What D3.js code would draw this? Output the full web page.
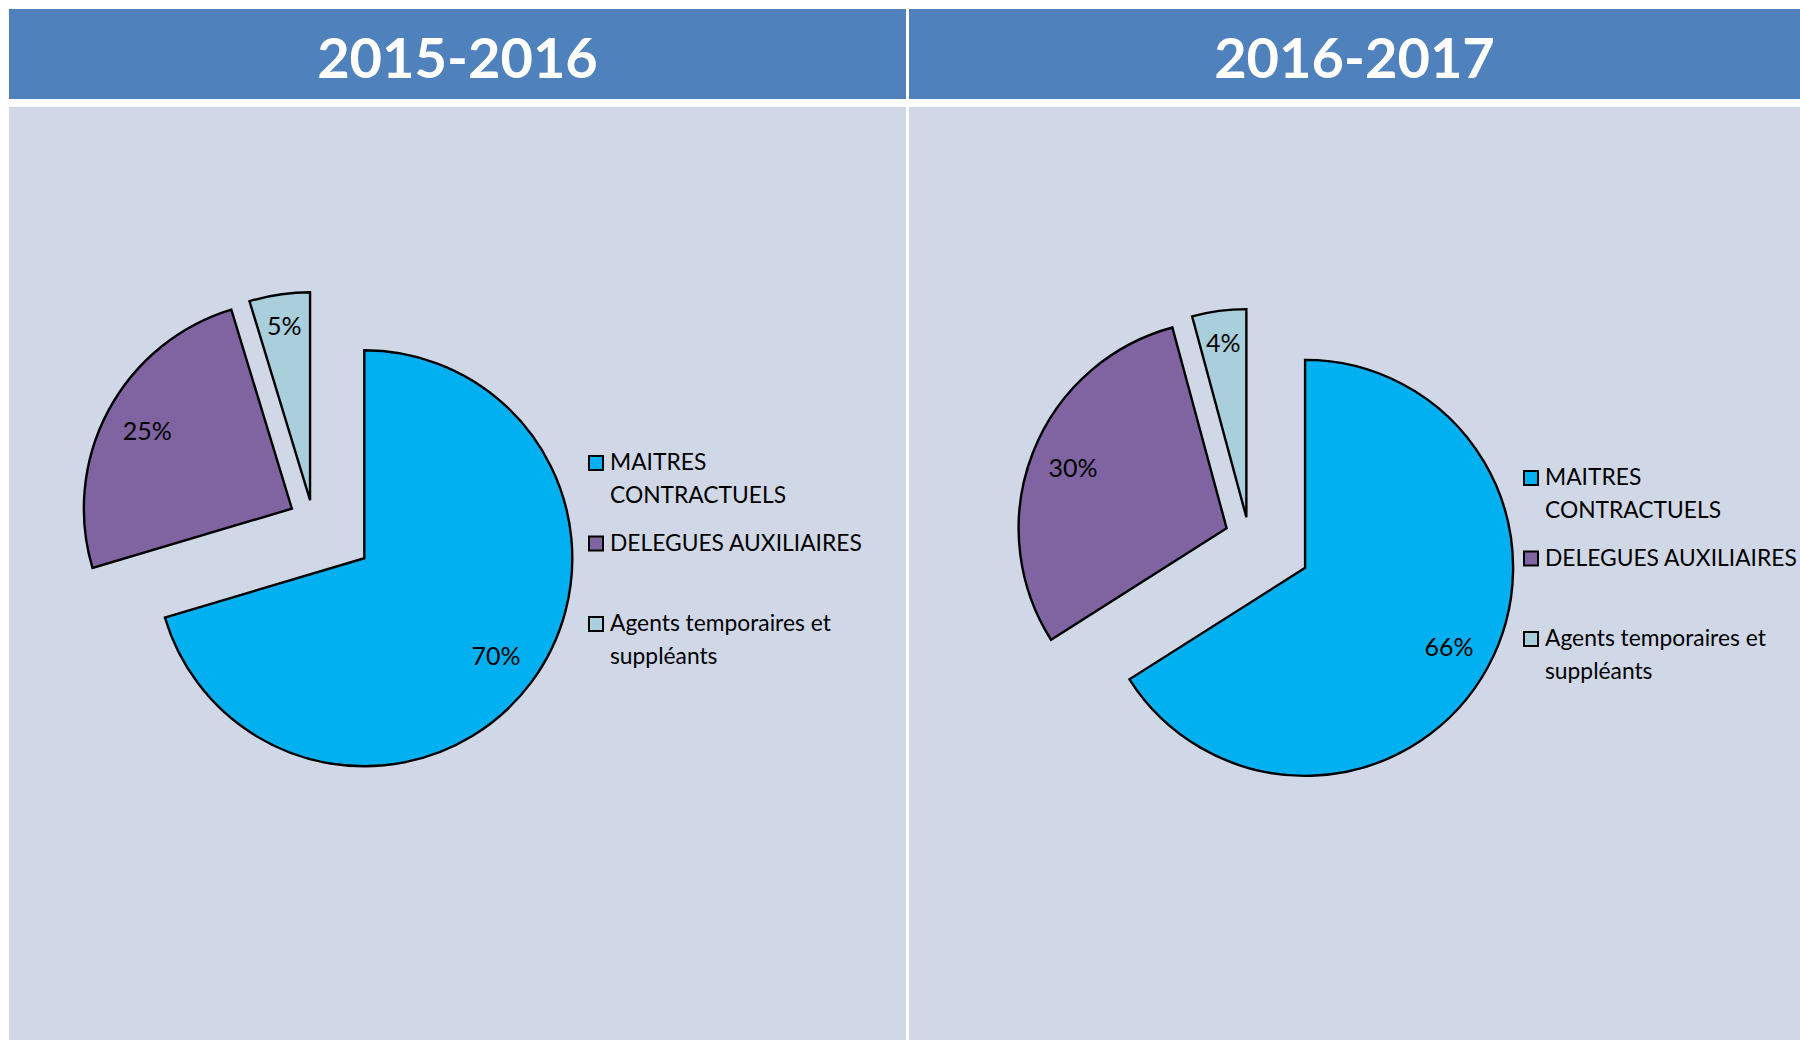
<!DOCTYPE html>
<html>
<head>
<meta charset="utf-8">
<script src="https://cdn.jsdelivr.net/npm/d3@7"></script>
<style>
  body { margin: 0; background: #fff; }
  text { font-family: Lato, "Open Sans", sans-serif; }
</style>
</head>
<body>
<div id="chart"></div>
<script>
// data
const years = ["2015-2016", "2016-2017"];
const categories = ["MAITRES CONTRACTUELS", "DELEGUES AUXILIAIRES", "Agents temporaires et suppléants"];
const legendLines = [["MAITRES", "CONTRACTUELS"], ["DELEGUES AUXILIAIRES"], ["Agents temporaires et", "suppléants"]];
const shares2015 = [70.4, 24.9, 4.7];
const shares2016 = [66.0, 29.8, 4.2];
const colors = ["#00B0F0", "#8064A2", "#A9CFDC"];

const width = 1800, height = 1040;
const radius = 208;
const explode = [64, 24, 20];   // slice pull-out, px

const svg = d3.select("#chart")
  .append("svg")
  .attr("width", width)
  .attr("height", height);

svg.append("rect").attr("width", width).attr("height", height).attr("fill", "#fff");

const panels = [
  {title: years[0], values: shares2015, x: 9, w: 897, cx: 313, cy: 520, legendX: 610, legendY: 470},
  {title: years[1], values: shares2016, x: 909, w: 891, cx: 1249, cy: 537, legendX: 1545, legendY: 485}
];

const pie = d3.pie().sort(null).value(d => d);
const arc = d3.arc().innerRadius(0).outerRadius(radius);

function drawPanel(p) {
  // header band
  svg.append("rect")
    .attr("x", p.x).attr("y", 9)
    .attr("width", p.w).attr("height", 90)
    .attr("fill", "#4F81BD");

  svg.append("text")
    .attr("x", p.x + p.w / 2).attr("y", 78)
    .attr("text-anchor", "middle")
    .attr("fill", "#fff")
    .attr("font-weight", "bold")
    .attr("font-size", 56)
    .text(p.title);

  // body
  svg.append("rect")
    .attr("x", p.x).attr("y", 107)
    .attr("width", p.w).attr("height", height - 107)
    .attr("fill", "#D0D8E8");

  const g = svg.append("g").attr("transform", `translate(${p.cx},${p.cy})`);

  const slices = g.selectAll("g.slice")
    .data(pie(p.values))
    .join("g")
    .attr("class", "slice")
    .attr("transform", d => {
      const m = (d.startAngle + d.endAngle) / 2;
      const e = explode[d.index];
      return `translate(${Math.sin(m) * e},${-Math.cos(m) * e})`;
    });

  slices.append("path")
    .attr("d", arc)
    .attr("fill", d => colors[d.index])
    .attr("stroke", "#000")
    .attr("stroke-width", 2.4);

  // labels at inside end
  slices.append("text")
    .attr("text-anchor", "middle")
    .attr("dy", "0.35em")
    .attr("font-size", 25)
    .attr("fill", "#000")
    .text(d => Math.round(d.data) + "%")
    .each(function(d) {
      const b = this.getBBox();
      const m = (d.startAngle + d.endAngle) / 2;
      const dist = radius - 15 - (Math.abs(Math.sin(m)) * b.width / 2 + Math.abs(Math.cos(m)) * b.height / 2);
      d3.select(this)
        .attr("x", Math.sin(m) * dist)
        .attr("y", -Math.cos(m) * dist);
    });

  // legend
  const legend = svg.append("g");
  categories.forEach((c, i) => {
    const y0 = p.legendY + i * 80.5;
    legend.append("rect")
      .attr("x", p.legendX - 21).attr("y", y0 - 14)
      .attr("width", 14).attr("height", 14)
      .attr("fill", colors[i])
      .attr("stroke", "#000")
      .attr("stroke-width", 2);
    const t = legend.append("text")
      .attr("x", p.legendX).attr("y", y0)
      .attr("font-size", 22.8)
      .attr("fill", "#000");
    legendLines[i].forEach((line, j) => {
      t.append("tspan")
        .attr("x", p.legendX)
        .attr("dy", j === 0 ? 0 : 33)
        .text(line);
    });
  });
}

panels.forEach(drawPanel);
</script>
</body>
</html>
